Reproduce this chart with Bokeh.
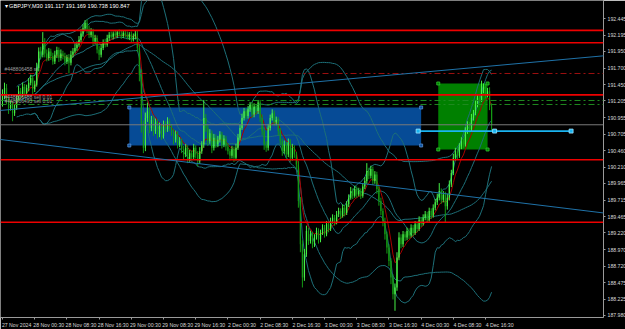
import numpy as np
import pandas as pd
from bokeh.plotting import figure
from bokeh.models import Range1d, FixedTicker, PrintfTickFormatter, Label, Slope, Span
from bokeh.embed import file_html
from bokeh.resources import INLINE

# ---------------- data ----------------
symbol_title = "\u25BE GBPJPY,M30  191.117 191.169 190.738 190.847"
first_open = 191.20
closes = [
    191.28, 191.40, 191.22, 191.10, 191.16, 191.02, 191.10, 191.25, 191.35, 191.30,
    191.42, 191.33, 191.40, 191.48, 191.55, 191.38, 191.45, 191.70, 191.95, 191.90,
    192.10, 191.92, 191.85, 191.95, 191.88, 191.80, 191.90, 191.97, 191.85, 191.92,
    191.88, 191.80, 191.86, 191.78, 191.90, 191.95, 192.00, 192.05, 192.12, 192.22,
    192.30, 192.38, 192.28, 192.20, 192.25, 192.10, 192.15, 191.98, 191.90, 192.00,
    192.08, 192.05, 192.15, 192.20, 192.17, 192.22, 192.19, 192.24, 192.21, 192.18,
    192.23, 192.20, 192.16, 192.21, 192.13, 192.18, 192.22, 192.00, 191.60, 190.85,
    190.50, 190.95, 191.05, 190.80, 190.92, 190.75, 190.88, 190.70, 190.82, 190.68,
    190.85, 190.78, 190.90, 190.80, 190.74, 190.62, 190.70, 190.55, 190.60, 190.48,
    190.40, 190.50, 190.33, 190.42, 190.36, 190.50, 190.40, 190.30, 190.45, 190.55,
    190.95, 190.80, 190.60, 190.72, 190.50, 190.65, 190.55, 190.62, 190.70, 190.55,
    190.64, 190.52, 190.45, 190.38, 190.48, 190.35, 190.50, 190.65, 190.80, 190.95,
    191.05, 190.98, 191.08, 191.15, 191.00, 191.12, 191.05, 191.18, 190.95, 190.75,
    190.55, 190.50, 190.80, 190.95, 191.02, 190.88, 190.92, 190.75, 190.60, 190.45,
    190.55, 190.40, 190.58, 190.35, 190.50, 190.40, 190.25, 189.70, 189.05, 188.55,
    188.90, 189.25, 189.10, 189.20, 189.05, 189.15, 189.25, 189.12, 189.22, 189.30,
    189.20, 189.35, 189.28, 189.40, 189.45, 189.38, 189.50, 189.55, 189.48, 189.60,
    189.52, 189.65, 189.75, 189.85, 189.78, 189.88, 189.80, 189.85, 189.78, 189.92,
    190.00, 190.15, 190.08, 190.18, 190.00, 190.10, 189.88, 189.70, 189.55, 189.40,
    189.20, 189.00, 188.80, 188.55, 188.30, 188.40, 188.85, 189.15, 189.05, 189.20,
    189.15, 189.25, 189.18, 189.30, 189.22, 189.35, 189.28, 189.42, 189.36, 189.45,
    189.50, 189.42, 189.55, 189.48, 189.60, 189.68, 189.75, 189.85, 189.72, 189.80,
    189.62, 189.75, 189.95, 190.12, 190.35, 190.45, 190.38, 190.52, 190.60, 190.55,
    190.75, 190.85, 190.78, 190.95, 191.02, 191.15, 191.25, 191.22, 191.38, 191.42,
    191.30, 191.35, 191.117, 190.847,
]
# wick lengths beyond the candle body, in pips (0.01 JPY)
upper_wick_pips = [
    10, 8, 6, 5, 6, 4, 5, 6, 8, 5,  6, 4, 5, 7, 5, 4, 6, 8, 6, 7,
    14, 5, 6, 5, 4, 5, 6, 5, 4, 6,  4, 5, 4, 5, 6, 5, 6, 5, 6, 7,
    6, 4, 5, 6, 5, 4, 5, 4, 5, 6,  5, 6, 5, 4, 5, 3, 4, 3, 4, 5,
    3, 4, 5, 3, 4, 4, 4, 4, 5, 8,  6, 8, 13, 5, 6, 5, 6, 5, 6, 4,
    6, 5, 6, 4, 5, 4, 6, 5, 6, 4,  5, 6, 4, 5, 4, 6, 4, 5, 6, 5,
    27, 6, 5, 6, 4, 6, 5, 6, 5, 4,  5, 4, 5, 4, 5, 4, 6, 6, 5, 6,
    5, 4, 5, 4, 4, 5, 4, 4, 4, 5,  4, 5, 6, 5, 6, 4, 5, 4, 5, 4,
    6, 4, 6, 5, 6, 4, 4, 5, 6, 6,  8, 8, 5, 5, 4, 5, 5, 4, 5, 5,
    4, 5, 4, 5, 5, 4, 5, 5, 4, 5,  4, 5, 5, 6, 4, 5, 4, 5, 4, 5,
    6, 12, 5, 5, 4, 5, 4, 4, 5, 4,  5, 4, 5, 4, 5, 6, 8, 8, 5, 5,
    4, 5, 4, 5, 4, 5, 4, 5, 4, 5,  5, 4, 5, 4, 5, 5, 6, 12, 4, 5,
    4, 6, 6, 5, 6, 5, 4, 5, 6, 4,  6, 5, 4, 6, 5, 6, 5, 4, 13, 5,
    4, 5, 6, 5.2,
]
lower_wick_pips = [
    8, 5, 6, 9, 4, 12, 4, 3, 5, 6,  4, 6, 4, 5, 4, 8, 4, 3, 5, 6,
    4, 6, 5, 4, 6, 5, 4, 5, 6, 4,  5, 6, 4, 16, 4, 4, 3, 4, 3, 4,
    5, 4, 6, 5, 4, 6, 4, 6, 8, 4,  3, 4, 3, 4, 3, 4, 3, 4, 3, 4,
    3, 4, 3, 4, 5, 3, 5, 6, 10, 12,  8, 5, 6, 8, 5, 7, 4, 6, 4, 6,
    4, 5, 4, 5, 6, 7, 4, 6, 4, 6,  7, 4, 6, 4, 5, 4, 6, 8, 4, 4,
    5, 6, 7, 4, 8, 4, 5, 4, 4, 6,  4, 6, 5, 7, 4, 6, 4, 3, 4, 3,
    4, 5, 4, 4, 5, 4, 5, 4, 6, 6,  8, 6, 4, 4, 4, 5, 4, 6, 6, 7,
    4, 6, 4, 6, 4, 5, 7, 10, 12, 15,  5, 4, 6, 4, 6, 4, 3, 6, 4, 3,
    5, 3, 5, 3, 4, 5, 3, 4, 5, 3,  5, 3, 4, 3, 5, 3, 5, 3, 5, 3,
    4, 4, 5, 4, 6, 4, 7, 7, 6, 8,  8, 9, 8, 10, 8, 25, 5, 4, 6, 4,
    5, 4, 5, 3, 5, 3, 5, 3, 5, 3,  4, 5, 3, 5, 3, 4, 4, 4, 6, 4,
    24, 5, 4, 4, 3, 4, 5, 3, 4, 5,  3, 4, 5, 3, 4, 3, 4, 5, 3, 6,
    6, 4, 5, 10.9,
]
time_label_bars = [0, 16, 32, 48, 64, 80, 96, 112, 128, 144, 160, 176, 192, 208, 224, 240]
time_labels = ["27 Nov 2024", "28 Nov 00:30", "28 Nov 08:30", "28 Nov 16:30",
               "29 Nov 00:30", "29 Nov 08:30", "29 Nov 16:30", "2 Dec 00:30",
               "2 Dec 08:30", "2 Dec 16:30", "3 Dec 00:30", "3 Dec 08:30",
               "3 Dec 16:30", "4 Dec 00:30", "4 Dec 08:30", "4 Dec 16:30"]
price_ticks = [192.445, 192.195, 191.950, 191.700, 191.450, 191.205, 190.955, 190.705,
               190.460, 190.210, 189.965, 189.715, 189.465, 189.220, 188.970, 188.720,
               188.475, 188.225, 187.980]
red_levels = [192.266, 192.080, 191.296, 190.320, 189.381]
sl_level = 191.618
sell_levels = [191.212, 191.152]
order_texts = ["#448806458 sl", "#448806458 sell 0.01", "#448806493 sell 0.01"]
bid_price = 190.847
blue_rect = dict(x0=63.0, x1=208.0, top=191.107, bottom=190.535)
green_rect = dict(x0=216.5, x1=241.0, top=191.468, bottom=190.475)
cyan_line = dict(x=[206.5, 244.5, 282.5], price=190.752)
up_trend = dict(bar0=0, price0=191.065, bar1=240, price1=191.723)
down_trend = dict(bar0=0, price0=190.622, bar1=240, price1=189.737)

# ---------------- derived series ----------------
c = np.array(closes, dtype=float)
o = np.concatenate([[first_open], c[:-1]])
hi = np.maximum(o, c) + np.array(upper_wick_pips) / 100.0
lo = np.minimum(o, c) - np.array(lower_wick_pips) / 100.0
idx = np.arange(len(c))
up = c >= o

s = pd.Series(c)
m20 = s.rolling(20, min_periods=8).mean()
sd20 = s.rolling(20, min_periods=8).std(ddof=0)
m50 = s.rolling(50, min_periods=15).mean()
sd50 = s.rolling(50, min_periods=15).std(ddof=0)
ma_fast = s.ewm(span=7, adjust=False).mean()

# ---------------- figure ----------------
p = figure(frame_width=603, frame_height=317, x_range=Range1d(-1, 298.6),
           y_range=Range1d(187.9487, 192.7157), output_backend="svg",
           toolbar_location=None, y_axis_location="right",
           background_fill_color="black", border_fill_color="black",
           outline_line_color=None, min_border=0)
p.grid.visible = False

FONT = "Liberation Sans"
ax_col = "#9a9a9a"
lab_col = "#d8d8d8"

ya = p.yaxis[0]
ya.ticker = FixedTicker(ticks=price_ticks)
ya.formatter = PrintfTickFormatter(format="%.3f")
ya.major_label_text_font = FONT
ya.major_label_text_font_size = "5.2px"
ya.major_label_text_color = lab_col
ya.axis_line_color = ax_col
ya.major_tick_line_color = ax_col
ya.major_tick_out = 2
ya.major_tick_in = 0
ya.minor_tick_out = 0
ya.minor_tick_in = 0
ya.major_label_standoff = 2

xa = p.xaxis[0]
label_centres = [b + 7 for b in time_label_bars]
xa.ticker = FixedTicker(ticks=label_centres, minor_ticks=time_label_bars)
xa.major_label_overrides = {lc: t for lc, t in zip(label_centres, time_labels)}
xa.major_label_text_font = FONT
xa.major_label_text_font_size = "5.2px"
xa.major_label_text_color = lab_col
xa.axis_line_color = ax_col
xa.major_tick_out = 0
xa.major_tick_in = 0
xa.minor_tick_out = 2
xa.minor_tick_in = 0
xa.minor_tick_line_color = ax_col
xa.major_label_standoff = 2

# background rectangles
p.quad(left=[blue_rect["x0"]], right=[blue_rect["x1"]], top=[blue_rect["top"]],
       bottom=[blue_rect["bottom"]], fill_color="#064b96", line_color=None)
p.quad(left=[green_rect["x0"]], right=[green_rect["x1"]], top=[green_rect["top"]],
       bottom=[green_rect["bottom"]], fill_color="#008000", line_color=None)

# indicators
teal = "#1d6f78"
for m, sd, k in ((m20, sd20, 2.0), (m50, sd50, 2.0)):
    p.line(idx, m, line_color=teal, line_width=1)
    p.line(idx, m + k * sd, line_color=teal, line_width=1)
    p.line(idx, m - k * sd, line_color=teal, line_width=1)
p.line(idx, ma_fast, line_color="#a80000", line_width=1)

# candles
up_col, dn_col = "#46f046", "#149a14"
cols = np.where(up, up_col, dn_col)
p.segment(x0=idx, y0=lo, x1=idx, y1=hi, line_color=list(cols), line_width=1)
p.vbar(x=idx, width=0.6, top=np.maximum(o, c), bottom=np.minimum(o, c),
       fill_color=list(cols), line_color=None)

# rectangle anchor points
for r, col, lc in ((blue_rect, "#0a4f9c", "#5a8fd0"), (green_rect, "#008000", "#30c030")):
    p.scatter(x=[r["x0"], r["x1"], r["x0"], r["x1"]], y=[r["top"], r["top"], r["bottom"], r["bottom"]],
              marker="square", size=3, fill_color=col, line_color=lc, line_width=0.8)

# horizontal levels
for lv in red_levels:
    p.add_layout(Span(location=lv, dimension="width", line_color="#ee0000", line_width=1.6))
p.add_layout(Span(location=sl_level, dimension="width", line_color="#9c1010", line_width=1,
                  line_dash="6 3 2 3"))
for lv in sell_levels:
    p.add_layout(Span(location=lv, dimension="width", line_color="#1f8a1f", line_width=1,
                      line_dash="6 3 2 3"))
p.add_layout(Span(location=bid_price, dimension="width", line_color="#7a7a7a", line_width=1))

# trend lines
for tl in (up_trend, down_trend):
    g = (tl["price1"] - tl["price0"]) / (tl["bar1"] - tl["bar0"])
    b0 = tl["price0"] - g * tl["bar0"]
    p.add_layout(Slope(gradient=g, y_intercept=b0, line_color="#1f72a8", line_width=1))

# cyan horizontal segment
p.line(x=[cyan_line["x"][0], cyan_line["x"][-1]], y=[cyan_line["price"]] * 2,
       line_color="#1ab4f0", line_width=1.6)
p.scatter(x=cyan_line["x"], y=[cyan_line["price"]] * 3, marker="square", size=4,
          fill_color="#1ab4f0", line_color="#9fe4ff", line_width=0.8)

# texts
p.add_layout(Label(x=-1, y=192.7157, x_offset=4, y_offset=-2, text=symbol_title,
                   text_baseline="top", text_color="white", text_font=FONT,
                   text_font_size="5.6px"))
p.add_layout(Label(x=-1, y=sl_level, x_offset=4, y_offset=1, text=order_texts[0],
                   text_baseline="bottom", text_color="#a0a0a0", text_font=FONT,
                   text_font_size="5px"))
for lv, t in zip(sell_levels, order_texts[1:]):
    p.add_layout(Label(x=-1, y=lv, x_offset=4, y_offset=0, text=t,
                       text_baseline="bottom", text_color="#a0a0a0", text_font=FONT,
                       text_font_size="5px"))

# right-scale price tags
for lv in red_levels:
    p.add_layout(Label(x=298.6, y=lv, x_offset=1, text=f"{lv:.3f}", text_baseline="middle",
                       text_color="#300000", background_fill_color="#ff0000",
                       text_font=FONT, text_font_size="5.2px"))
p.add_layout(Label(x=298.6, y=bid_price, x_offset=1, text=f"{bid_price:.3f}",
                   text_baseline="middle", text_color="black", background_fill_color="white",
                   text_font=FONT, text_font_size="5.2px"))

open("out.html", "w").write(file_html(p, INLINE))
